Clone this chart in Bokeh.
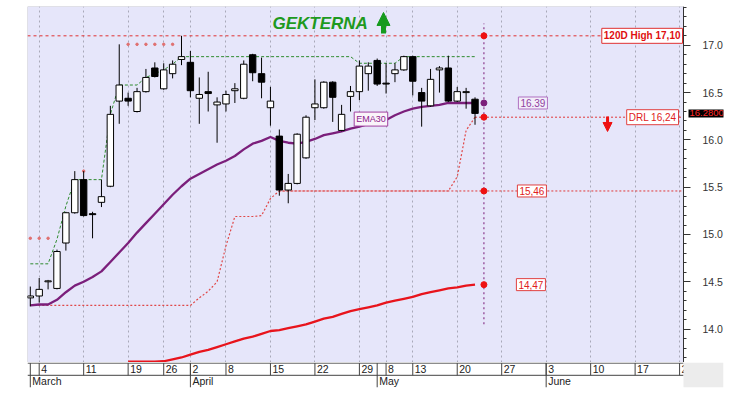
import numpy as np
import pandas as pd
from bokeh.plotting import figure
from bokeh.models import (Range1d, FixedTicker, SingleIntervalTicker, Label, Arrow,
                          NormalHead, ColumnDataSource, PrintfTickFormatter)
from bokeh.layouts import column
from bokeh.embed import file_html
from bokeh.resources import INLINE
from bokeh.core.properties import value

# ---------------- data ----------------
ticker_name = "GEKTERNA"
start_date = "2024-03-01"
end_date = "2024-06-28"
holidays = ["2024-03-18", "2024-03-25", "2024-03-29", "2024-04-01", "2024-05-01",
            "2024-05-03", "2024-05-06", "2024-05-07", "2024-06-24"]

opens = [14.33, 14.35, 14.50, 14.43, 14.91, 15.23, 15.58, 15.22, 15.34, 15.51, 16.41,
         16.44, 16.30, 16.51, 16.76, 16.54, 16.70, 16.85, 16.82, 16.44, 16.51,
         16.37, 16.38, 16.52, 16.44, 16.90, 16.70, 16.34, 16.04, 15.47, 15.54,
         15.81, 16.34, 16.34, 16.61, 16.10, 16.46, 16.51, 16.70, 16.84, 16.60,
         16.70, 16.74, 16.88, 16.50, 16.36, 16.74, 16.76, 16.41, 16.50, 16.43]
highs = [14.45, 14.54, 14.52, 14.84, 15.24, 15.67, 15.67, 15.24, 15.58, 16.36, 17.01,
         16.50, 16.55, 16.75, 16.82, 16.81, 16.84, 17.10, 16.94, 16.66, 16.72,
         16.45, 16.52, 16.60, 16.84, 16.91, 16.87, 16.56, 16.11, 15.64, 16.07,
         16.26, 16.64, 16.62, 16.62, 16.37, 16.57, 16.84, 16.82, 16.86, 16.81,
         16.81, 16.89, 16.89, 16.55, 16.75, 16.78, 16.89, 16.56, 16.55, 16.45]
lows = [14.24, 14.28, 14.42, 14.42, 14.83, 15.22, 15.19, 14.96, 15.29, 15.50, 16.17,
        16.36, 16.29, 16.50, 16.66, 16.53, 16.65, 16.79, 16.45, 16.17, 16.30,
        15.97, 16.30, 16.39, 16.43, 16.62, 16.44, 16.15, 15.41, 15.33, 15.53,
        15.80, 16.21, 16.33, 16.19, 16.09, 16.30, 16.42, 16.52, 16.57, 16.49,
        16.61, 16.73, 16.47, 16.14, 16.35, 16.50, 16.40, 16.40, 16.33, 16.16]
closes = [14.35, 14.42, 14.51, 14.82, 15.23, 15.58, 15.20, 15.21, 15.40, 16.27, 16.58,
          16.41, 16.51, 16.66, 16.67, 16.74, 16.80, 16.88, 16.52, 16.48, 16.49,
          16.40, 16.48, 16.54, 16.80, 16.71, 16.61, 16.41, 15.47, 15.54, 16.06,
          16.24, 16.38, 16.61, 16.45, 16.27, 16.51, 16.78, 16.78, 16.59, 16.59,
          16.74, 16.88, 16.62, 16.41, 16.64, 16.76, 16.41, 16.51, 16.51, 16.28]
ema30 = [14.25, 14.26, 14.26, 14.31, 14.39, 14.46, 14.50, 14.55, 14.61, 14.71, 14.81,
         14.91, 15.02, 15.12, 15.22, 15.32, 15.42, 15.51, 15.59, 15.64, 15.69,
         15.74, 15.78, 15.83, 15.90, 15.96, 15.99, 16.03, 15.99, 15.97, 15.96,
         15.98, 16.01, 16.05, 16.07, 16.09, 16.12, 16.14, 16.17, 16.19, 16.21,
         16.26, 16.30, 16.33, 16.35, 16.36, 16.37, 16.39, 16.39, 16.39, 16.39]
long_ma_start = 11  # bar position where the long average enters the chart
long_ma = [13.655, 13.655, 13.655, 13.655, 13.66, 13.68, 13.70, 13.73, 13.76, 13.78,
           13.81, 13.84, 13.87, 13.90, 13.92, 13.95, 13.98, 13.99, 14.01, 14.03,
           14.05, 14.08, 14.11, 14.13, 14.16, 14.19, 14.21, 14.23, 14.25, 14.28,
           14.30, 14.32, 14.34, 14.37, 14.39, 14.41, 14.43, 14.44, 14.46, 14.47]
stop_line = [14.25] * 19 + [14.33, 14.40, 14.50, 14.88, 15.19, 15.19, 15.19, 15.20, 15.38] \
            + [15.46] * 20 + [15.61, 16.10, 16.24]
high_close_line = [14.69, 14.69, 14.69, 14.95, 15.30, 15.58, 15.58, 15.58, 15.58, 16.27,
                   16.58, 16.58, 16.58, 16.66, 16.70, 16.74, 16.80] + [16.88] * 20 \
                  + [16.81] * 5 + [16.88] * 9
nan = float("nan")
hh_dots = [14.96, 14.96, 14.96, nan, nan, nan, 15.67, nan, nan, nan, nan,
           17.01, 17.01, 17.01, 17.01, 17.01, 17.01] + [nan] * 34

high120 = 17.10
drl = 16.24
support = 15.46
long_last = 14.47
last_price = 16.28
proj_span = [14.05, 17.23]

# ---------------- calendar ----------------
days = pd.bdate_range(start_date, end_date)
days = days[~days.isin(pd.to_datetime(holidays))]
pos = np.arange(len(days))
n = len(closes)
bars = pos[:n]
proj = n  # next trading day

x0, x1 = -0.315, 73.44            # price pane
x1_ext = x0 + (x1 - x0) * 696 / 656  # pane + axis column
y0, y1 = 13.647, 17.41

iso_week = days.isocalendar().week.values
week_pos = [int(k) for k in range(1, len(days)) if iso_week[k] != iso_week[k - 1] and k <= x1]
day_labels = [str(days[k].day) for k in week_pos]
month_pos = [0] + [k for k in range(1, len(days)) if days[k].month != days[k - 1].month and k <= x1]
month_labels = [days[k].strftime("%B") for k in month_pos]

FONT = "Liberation Sans"

# ---------------- main chart ----------------
p = figure(width=739, height=362, x_range=Range1d(x0, x1_ext), y_range=Range1d(y0, y1),
           output_backend="svg", toolbar_location=None, x_axis_location=None,
           y_axis_location="right", min_border_left=27, min_border_right=16,
           min_border_top=6, min_border_bottom=0, background_fill_color="white",
           border_fill_color="white", outline_line_color=None)

# lavender price pane
p.quad(left=[x0], right=[x1], bottom=[y0], top=[y1], fill_color="#E6E6FA",
       line_color="#C8C8D0", level="image")

yax = p.yaxis[0]
yax.fixed_location = x1
yax.ticker = SingleIntervalTicker(interval=0.5, num_minor_ticks=5)
yax.formatter = PrintfTickFormatter(format="%.1f")
yax.major_tick_out = 7
yax.major_tick_in = 0
yax.minor_tick_out = 3
yax.minor_tick_in = 0
yax.axis_line_color = "#333333"
yax.major_tick_line_color = "#333333"
yax.minor_tick_line_color = "#333333"
yax.major_label_standoff = 12
yax.major_label_text_font = FONT
yax.major_label_text_font_size = "10.5px"
yax.major_label_text_color = "#333333"

p.xgrid.ticker = FixedTicker(ticks=week_pos)
p.xgrid.grid_line_color = "#A8A8B8"
p.xgrid.grid_line_dash = "2 3"
p.ygrid.visible = False

# horizontal level rays
p.segment(x0=[x0], y0=[high120], x1=[x1], y1=[high120], line_color="#E03030",
          line_dash="3 3", line_width=1)
first_support = stop_line.index(support)
p.segment(x0=[first_support], y0=[support], x1=[x1], y1=[support], line_color="#E03838",
          line_dash="2 2", line_width=1)
p.segment(x0=[bars[-1]], y0=[drl], x1=[x1], y1=[drl], line_color="#E03838",
          line_dash="2 2", line_width=1)

# indicator lines
p.line(bars, stop_line, line_color="#E04848", line_dash="2 2", line_width=1.2)
p.line(bars, high_close_line, line_color="#2E8B2E", line_dash="3 2", line_width=1)
p.scatter(bars, hh_dots, size=2.5, color="#E07070")
p.line(bars, ema30, line_color="#7B1F7B", line_width=2.3)
p.line(bars[long_ma_start:], long_ma, line_color="#E8141C", line_width=2.3)

# candles
src = ColumnDataSource(dict(
    x=bars, h=highs, l=lows,
    top=[max(o, c) for o, c in zip(opens, closes)],
    bottom=[min(o, c) for o, c in zip(opens, closes)],
    fill=["black" if c < o else "white" for o, c in zip(opens, closes)]))
p.segment(x0="x", y0="l", x1="x", y1="h", source=src, line_color="black", line_width=1)
p.vbar(x="x", width=0.72, top="top", bottom="bottom", source=src, fill_color="fill",
       line_color="black", line_width=1)

# projection column
p.segment(x0=[proj], y0=[proj_span[0]], x1=[proj], y1=[proj_span[1]],
          line_color="#8B3A8B", line_dash="2 3", line_width=1.2)
p.scatter([proj] * 4, [high120, drl, support, long_last], size=6, color="#EE1111")
p.scatter([proj], [ema30[-1]], size=6, color="#7B1F7B")


def box_label(x, y, text, color, border, bg="white", size="10px", bold=False,
              align="center", x_offset=0):
    p.add_layout(Label(x=x, y=y, text=text, text_color=color, text_font=FONT,
                       text_font_size=size, text_font_style="bold" if bold else "normal",
                       text_align=align, text_baseline="middle", x_offset=x_offset,
                       background_fill_color=bg, border_line_color=border,
                       border_line_width=1, padding=2))


box_label(x1, high120, "120D High 17,10", "#E01010", "#E03030", size="10px", bold=True,
          align="right", x_offset=-1)
box_label(x1, drl, "DRL 16,24", "#E02020", "#E04040", align="right", x_offset=-5)
box_label(proj, ema30[-1], "16.39", "#9040A0", "#B070C0", bg="#F2EEFA", x_offset=49)
box_label(proj, support, "15,46", "#E02020", "#E04040", x_offset=48)
box_label(proj, long_last, "14,47", "#E02020", "#E04040", x_offset=47)
box_label(38.3, 16.22, "EMA30", "#8B1A8B", "#A040A0", bg="#FAF4FA", size="9px")

# price tag on the axis
p.add_layout(Label(x=x1, y=last_price, x_offset=5, text="16.28000",
                   text_color="#FF2A2A", text_font=FONT, text_font_size="9.5px",
                   text_baseline="middle", background_fill_color="black", padding=1))

# title and arrows
p.add_layout(Label(x=27.23, y=17.23, text=ticker_name, text_color="#1E9A1E",
                   text_font=FONT, text_font_size="17px", text_font_style="bold italic",
                   text_baseline="alphabetic"))
p.add_layout(Arrow(end=NormalHead(size=13, fill_color="#169A1E", line_color="#169A1E"),
                   x_start=39.71, y_start=17.125, x_end=39.71, y_end=17.347,
                   line_color="#169A1E", line_width=5))
p.add_layout(Arrow(end=NormalHead(size=9, fill_color="#EE1111", line_color="#EE1111"),
                   x_start=64.9, y_start=16.247, x_end=64.9, y_end=16.089,
                   line_color="#EE1111", line_width=3))

# ---------------- date axis strip ----------------
pa = figure(width=739, height=36, x_range=p.x_range, y_range=Range1d(0, 2.05),
            output_backend="svg", toolbar_location=None, x_axis_location=None,
            y_axis_location=None, min_border_left=27, min_border_right=16,
            min_border_top=0, min_border_bottom=11, outline_line_color=None,
            background_fill_color="white", border_fill_color="white")
pa.grid.visible = False
pa.segment(x0=[x0, x0], y0=[2, 1], x1=[x1, x1], y1=[2, 1], line_color="#444444", line_width=1)
pa.segment(x0=week_pos, y0=[1] * len(week_pos), x1=week_pos, y1=[2] * len(week_pos),
           line_color="#444444", line_width=1)
pa.segment(x0=month_pos, y0=[0] * len(month_pos), x1=month_pos, y1=[2] * len(month_pos),
           line_color="#444444", line_width=1)
pa.text(x=week_pos, y=[1.5] * len(week_pos), text=day_labels, x_offset=2,
        text_baseline="middle", text_align="left", text_font=value(FONT),
        text_font_size="10.5px", text_color="#222222")
pa.text(x=month_pos, y=[0.5] * len(month_pos), text=month_labels, x_offset=2,
        text_baseline="middle", text_align="left", text_font=value(FONT),
        text_font_size="10.5px", text_color="#222222")
pa.quad(left=[x1], right=[x1_ext], bottom=[0], top=[2.05], fill_color="#ECECEC",
        line_color=None)

layout = column(p, pa, spacing=0)
open("out.html", "w").write(file_html(layout, INLINE))
